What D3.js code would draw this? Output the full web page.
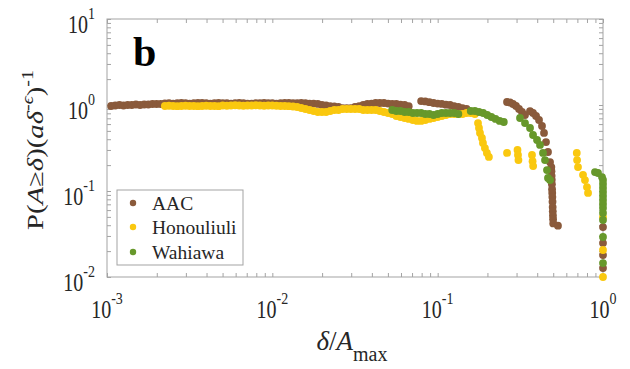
<!DOCTYPE html>
<html>
<head>
<meta charset="utf-8">
<script src="https://cdn.jsdelivr.net/npm/d3@7"></script>
<style>
  body { margin: 0; background: #fff; }
  text { font-family: "Liberation Serif", "Times New Roman", serif; }
</style>
</head>
<body>
<div id="canvas"></div>
<script>
"use strict"

/* Data: [delta / A_max, P(A >= delta)(a delta^-eps)^-1] */
let aacPoints = [
    [0.001059,0.974],[0.001122,0.987],[0.001189,1.00],[0.001259,0.987],[0.001334,1.00],[0.001413,1.00],[0.001496,1.013],[0.001585,1.00],[0.001679,1.013],[0.001778,1.013],
    [0.001884,1.027],[0.001995,1.027],[0.002113,1.027],[0.002239,1.041],[0.002371,1.05],[0.002512,1.04],[0.002661,1.05],[0.002818,1.06],[0.002985,1.05],[0.003162,1.04],
    [0.00335,1.05],[0.003548,1.06],[0.003758,1.06],[0.003981,1.05],[0.004217,1.04],[0.004467,1.05],[0.004732,1.06],[0.005012,1.05],[0.005309,1.05],[0.005623,1.04],
    [0.005957,1.05],[0.00631,1.06],[0.006683,1.05],[0.007079,1.04],[0.007499,1.04],[0.007943,1.05],[0.008414,1.05],[0.008913,1.06],[0.009441,1.05],[0.01,1.05],
    [0.01059,1.04],[0.01122,1.05],[0.01189,1.06],[0.01259,1.06],[0.01334,1.05],[0.01413,1.05],[0.01496,1.06],[0.01585,1.05],[0.01679,1.04],[0.01778,1.04],
    [0.01884,1.03],[0.01995,1.00],[0.02113,0.99],[0.02239,0.97],[0.02371,0.96],[0.02512,0.95],[0.02661,0.92],[0.02818,0.92],[0.02985,0.92],[0.03162,0.95],
    [0.0335,0.97],[0.03548,1.00],[0.03758,1.03],[0.03981,1.04],[0.04217,1.055],[0.04467,1.055],[0.04732,1.055],[0.05012,1.04],[0.05309,1.03],[0.05623,1.03],
    [0.05957,1.01],[0.0631,1.00],[0.06683,0.97],
    [0.07943,1.11],[0.08414,1.10],[0.08913,1.08],[0.09441,1.055],[0.1,1.04],[0.1059,1.03],[0.1122,1.01],[0.1189,1.00],[0.1259,0.97],[0.1334,0.95],[0.1413,0.92],[0.1496,0.90],
    [0.2627,1.083],[0.2738,1.069],[0.2856,1.027],[0.2978,0.974],[0.3105,0.899],[0.3236,0.829],[0.3374,0.765],[0.3619,0.851],[0.3774,0.807],[0.3935,0.745],
    [0.4102,0.669],[0.4276,0.570],[0.4397,0.473],[0.4521,0.371],[0.4648,0.284],[0.4782,0.217],
    [0.487,0.19],[0.488,0.17],[0.489,0.15],[0.490,0.135],[0.491,0.12],[0.492,0.105],[0.493,0.095],[0.494,0.085],[0.495,0.075],[0.496,0.065],
    [0.497,0.058],[0.498,0.052],[0.499,0.047],[0.50,0.042],[0.534,0.0395],
    [1,0.0381],[1,0.0248],[1,0.018],[1,0.0127]
];

let honouliuliPoints = [
    [0.002239,0.974],[0.002371,0.98],[0.002512,0.974],[0.002661,0.968],[0.002818,0.974],[0.002985,0.98],[0.003162,0.974],[0.00335,0.974],[0.003548,0.968],[0.003758,0.974],
    [0.003981,0.98],[0.004217,0.974],[0.004467,0.974],[0.004732,0.968],
    [0.005012,0.987],[0.005309,0.98],[0.005623,0.987],[0.005957,0.993],[0.00631,0.987],[0.006683,0.98],[0.007079,0.987],[0.007499,0.987],[0.007943,0.993],[0.008414,0.987],
    [0.008913,0.98],[0.009441,0.987],[0.01,0.987],
    [0.01059,0.98],[0.01122,0.974],[0.01189,0.974],[0.01259,0.968],[0.01334,0.96],
    [0.01413,0.948],[0.01496,0.923],[0.01585,0.899],[0.01679,0.875],[0.01778,0.852],[0.01884,0.829],[0.01995,0.829],[0.02113,0.829],[0.02239,0.852],[0.02371,0.875],
    [0.02512,0.875],[0.02661,0.899],[0.02818,0.899],[0.02985,0.899],[0.03162,0.899],[0.0335,0.899],[0.03548,0.875],[0.03758,0.875],[0.03981,0.875],[0.04217,0.875],
    [0.04467,0.852],[0.04732,0.829],[0.05012,0.807],[0.05309,0.786],[0.05623,0.745],[0.05957,0.725],[0.0631,0.706],[0.06683,0.688],[0.07079,0.669],[0.07499,0.652],
    [0.07943,0.652],[0.08414,0.669],[0.08913,0.688],[0.09441,0.706],[0.1,0.725],[0.1059,0.745],[0.1122,0.765],[0.1189,0.786],[0.1259,0.786],[0.1334,0.786],
    [0.1413,0.786],[0.1496,0.807],[0.1585,0.807],[0.1679,0.786],
    [0.1754,0.617],[0.1778,0.540],[0.1803,0.473],[0.1853,0.414],[0.1879,0.362],[0.1931,0.316],[0.1985,0.277],[0.2041,0.249],
    [0.2627,0.277],[0.304,0.300],[0.306,0.263],[0.308,0.229],[0.372,0.263],[0.375,0.222],[0.378,0.195],
    [0.694,0.277],[0.697,0.229],[0.706,0.190],[0.757,0.154],[0.778,0.134],[0.800,0.111],[0.812,0.095],
    [1,0.0498],[1,0.0206],[1,0.0100]
];

let wahiawaPoints = [
    [0.05309,0.875],[0.05623,0.852],[0.05957,0.852],[0.0631,0.829],[0.06683,0.829],[0.07079,0.807],[0.07499,0.807],[0.07943,0.807],[0.08414,0.786],[0.08913,0.786],
    [0.09441,0.765],[0.1,0.786],[0.1059,0.807],[0.1122,0.807],[0.1189,0.807],[0.1259,0.807],[0.1334,0.786],
    [0.1585,0.852],[0.1679,0.852],[0.1778,0.829],[0.1884,0.807],[0.1995,0.765],[0.2113,0.725],[0.2239,0.688],[0.2371,0.652],[0.2512,0.634],
    [0.3148,0.706],[0.3375,0.617],[0.3619,0.540],[0.3774,0.448],[0.3991,0.392],[0.4159,0.343],[0.4337,0.277],[0.4459,0.229],[0.4584,0.175],[0.4648,0.142],[0.4782,0.134],
    [0.8944,0.166],[0.9327,0.162],[0.9862,0.145],
    [1,0.1342],[1,0.1207],[1,0.1083],[1,0.0974],[1,0.0875],[1,0.0786],[1,0.0706],[1,0.0634],[1,0.0555],[1,0.046],[1,0.0292],[1,0.0145]
];

let seriesNames = ["AAC", "Honouliuli", "Wahiawa"];
let seriesColors = ["#8a5a3b", "#fac80f", "#67982b"];
let seriesPoints = [aacPoints, honouliuliPoints, wahiawaPoints];

/* Tick values and labels (powers of ten) */
let xMajorExp = [-3, -2, -1, 0];
let yMajorExp = [-2, -1, 0, 1];

/* Drawing configuration */
let svgWidth = 630;
let svgHeight = 369;
let plotLeft = 107, plotRight = 603, plotTop = 19, plotBottom = 277;
let axisColor = "#a3a3a3";
let textColor = "#262626";
let markerR = 3.9;
let tickStretch = 1.25;

let svg = d3.select("#canvas")
    .append("svg")
    .attr("width", svgWidth)
    .attr("height", svgHeight);

let xScale = d3.scaleLog()
    .domain([1e-3, 1])
    .range([plotLeft, plotRight]);

let yScale = d3.scaleLog()
    .domain([1e-2, 10])
    .range([plotBottom, plotTop]);

// major + minor ticks for log axes
function logTicks(exps) {
    let out = [];
    exps.forEach(function (e, i) {
        let d = Math.pow(10, e);
        out.push(d);
        if (i < exps.length - 1) {
            for (let m = 2; m <= 9; m++) out.push(m * d);
        }
    });
    return out;
}
let xTickVals = logTicks(xMajorExp);
let yTickVals = logTicks(yMajorExp);

/* Axes box with inward ticks on all four sides */
function styleAxis(g) {
    g.select(".domain").remove();
    g.selectAll("line").attr("stroke", axisColor).attr("stroke-width", 1);
    g.selectAll("text").remove();
}
svg.append("g").attr("transform", "translate(0," + plotBottom + ")")
    .call(d3.axisBottom(xScale).tickValues(xTickVals).tickSize(-4).tickFormat(""))
    .call(styleAxis);
svg.append("g").attr("transform", "translate(0," + plotTop + ")")
    .call(d3.axisTop(xScale).tickValues(xTickVals).tickSize(-4).tickFormat(""))
    .call(styleAxis);
svg.append("g").attr("transform", "translate(" + plotLeft + ",0)")
    .call(d3.axisLeft(yScale).tickValues(yTickVals).tickSize(-4).tickFormat(""))
    .call(styleAxis);
svg.append("g").attr("transform", "translate(" + plotRight + ",0)")
    .call(d3.axisRight(yScale).tickValues(yTickVals).tickSize(-4).tickFormat(""))
    .call(styleAxis);

svg.append("rect")
    .attr("x", plotLeft)
    .attr("y", plotTop)
    .attr("width", plotRight - plotLeft)
    .attr("height", plotBottom - plotTop)
    .attr("fill", "none")
    .attr("stroke", axisColor)
    .attr("stroke-width", 1);

/* Tick labels: 10^n */
function powLabel(x, y, exp, anchor) {
    let t = svg.append("text")
        .attr("transform", "translate(" + x + "," + y + ") scale(1," + tickStretch + ")")
        .attr("text-anchor", anchor)
        .attr("fill", textColor)
        .attr("font-size", 20);
    t.append("tspan").text("10");
    t.append("tspan").attr("font-size", 14).attr("dy", -11).text(String(exp));
}
xMajorExp.forEach(function (e) {
    powLabel(xScale(Math.pow(10, e)), 318, e, "middle");
});
yMajorExp.forEach(function (e) {
    powLabel(95, yScale(Math.pow(10, e)) + 14, e, "end");
});

/* Markers: AAC, then Honouliuli, then Wahiawa on top */
seriesPoints.forEach(function (pts, i) {
    svg.append("g")
        .selectAll("circle")
        .data(pts)
        .join("circle")
        .attr("cx", function (d) { return xScale(d[0]); })
        .attr("cy", function (d) { return yScale(d[1]); })
        .attr("r", markerR)
        .attr("fill", seriesColors[i]);
});

/* Panel letter */
svg.append("text")
    .attr("x", 133)
    .attr("y", 66)
    .attr("font-size", 42)
    .attr("font-weight", "bold")
    .attr("fill", "#000")
    .text("b");

/* X axis label: delta / A_max */
let xLabel = svg.append("text")
    .attr("x", 352)
    .attr("y", 350)
    .attr("text-anchor", "middle")
    .attr("fill", textColor)
    .attr("font-size", 27);
xLabel.append("tspan").attr("font-style", "italic").text("δ");
xLabel.append("tspan").text("/");
xLabel.append("tspan").attr("font-style", "italic").text("A");
xLabel.append("tspan").attr("font-size", 20).attr("dy", 11).text("max");

/* Y axis label, rotated */
let yLabel = svg.append("text")
    .attr("transform", "translate(43,150) scale(1,1.25) rotate(-90)")
    .attr("text-anchor", "middle")
    .attr("fill", textColor)
    .attr("font-size", 23);
yLabel.append("tspan").text("P(");
yLabel.append("tspan").attr("font-style", "italic").text("A");
yLabel.append("tspan").text("≥");
yLabel.append("tspan").attr("font-style", "italic").text("δ");
yLabel.append("tspan").text(")(");
yLabel.append("tspan").attr("font-style", "italic").text("aδ");
yLabel.append("tspan").attr("font-size", 16).attr("dy", -10).text("-");
yLabel.append("tspan").attr("font-size", 16).attr("font-style", "italic").text("ϵ");
yLabel.append("tspan").attr("dy", 10).text(")");
yLabel.append("tspan").attr("font-size", 16).attr("dy", -10).text("-1");

/* Legend */
let legendX = 117, legendY = 190, legendW = 126, legendH = 75;
svg.append("rect")
    .attr("x", legendX)
    .attr("y", legendY)
    .attr("width", legendW)
    .attr("height", legendH)
    .attr("fill", "#fff")
    .attr("stroke", axisColor)
    .attr("stroke-width", 1);

let legendRowY = [203, 227, 252];
seriesNames.forEach(function (name, i) {
    svg.append("circle")
        .attr("cx", 133)
        .attr("cy", legendRowY[i])
        .attr("r", 3.2)
        .attr("fill", seriesColors[i]);
    svg.append("text")
        .attr("x", 152)
        .attr("y", legendRowY[i] + 7)
        .attr("font-size", 19.5)
        .attr("fill", textColor)
        .text(name);
});
</script>
</body>
</html>
